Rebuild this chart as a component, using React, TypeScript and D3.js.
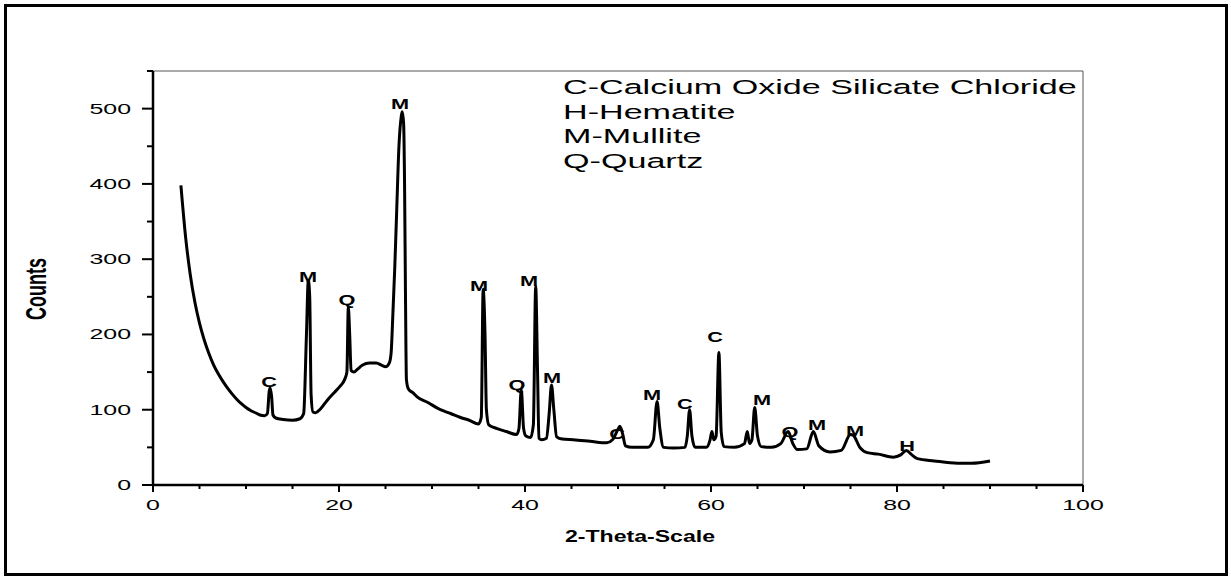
import * as d3 from "d3";
import React from "react";

// XRD pattern (2-theta in degrees, counts)
const twoTheta = [
  3.0, 3.5, 4.0, 4.5, 5.0, 5.5, 6.0, 6.5, 7.0, 7.5, 8.0, 8.5, 9.0, 9.5, 10.0, 10.5, 11.0, 11.5, 12.0,
  12.3, 12.5, 12.6, 12.75, 12.9, 13.2, 14.0, 15.0, 15.8, 16.2, 16.5, 16.7, 16.85, 17.0, 17.2, 17.5,
  18.0, 18.7, 19.5, 20.1, 20.6, 20.85, 21.0, 21.15, 21.3, 21.6, 22.0, 22.5, 23.3, 24.0, 24.6, 25.0,
  25.4, 25.6, 25.8, 26.0, 26.2, 26.45, 26.7, 26.8, 26.95, 27.05, 27.15, 27.25, 27.45, 28.0, 28.4,
  29.5, 30.9, 32.0, 33.0, 34.0, 35.0, 35.3, 35.5, 35.7, 35.85, 36.1, 37.0, 38.0, 39.1, 39.35, 39.6,
  39.85, 40.1, 40.6, 40.9, 41.15, 41.35, 41.5, 41.8, 42.3, 42.6, 42.85, 43.1, 43.4, 44.0, 45.2,
  47.0, 48.8, 49.4, 50.0, 50.2, 50.5, 50.8, 51.5, 53.2, 53.8, 54.2, 54.5, 54.9, 56.0, 57.2, 57.45,
  57.7, 57.95, 58.3, 59.5, 59.9, 60.1, 60.3, 60.55, 60.85, 61.1, 61.4, 62.5, 63.6, 63.9, 64.15,
  64.4, 64.7, 65.0, 65.4, 66.5, 67.5, 68.3, 68.8, 69.3, 70.3, 71.0, 71.6, 72.8, 74.0, 75.0, 75.3,
  76.0, 76.8, 78.0, 79.6, 80.4, 81.0, 81.6, 82.2, 84.0, 86.5, 88.0, 90.0,
];
const counts = [
  398, 330, 280, 243, 215, 193, 175, 160, 148, 138, 129, 121, 114, 108, 103, 99, 96, 93, 92,
  95, 125, 129, 118, 93, 89, 87, 86, 88, 95, 200, 272, 250, 120, 97, 96,
  101, 112, 123, 131, 140, 150, 236, 200, 152, 150, 154, 159, 162, 162, 159, 157,
  162, 175, 229, 290, 363, 451, 490, 496, 480, 400, 250, 140, 128, 122, 117,
  110, 100, 95, 90, 86, 81, 90, 260, 200, 100, 80, 75, 71, 67, 75, 127,
  75, 65, 63, 80, 264, 150, 62, 60, 62, 95, 133, 100, 64, 61, 60,
  58, 56, 60, 74, 78, 68, 52, 50, 50, 60, 111, 75, 50, 49, 50, 65,
  100, 65, 50, 50, 60, 71, 60, 65, 176, 70, 51, 50, 55, 71, 55,
  60, 103, 65, 51, 50, 55, 71, 55, 47, 48, 71, 52, 44, 46, 67, 66,
  50, 43, 41, 37, 40, 46, 40, 35, 32, 29, 29, 32,
];

// peak labels (phase letter, where the letter sits)
const peakPhase = ["C", "M", "Q", "M", "M", "Q", "M", "M", "C", "M", "C", "C", "M", "Q", "M", "M", "H"];
const peakTheta = [12.47, 16.67, 20.86, 26.56, 35.05, 39.14, 40.43, 42.9, 49.89, 53.66, 57.2, 60.43, 65.48, 68.49, 71.4, 75.48, 81.08];
const peakCount = [137, 277, 247, 507, 265, 133, 272, 143, 69, 120, 108, 197, 113, 71, 81, 73, 53];

const legendLines = ["C-Calcium Oxide Silicate Chloride", "H-Hematite", "M-Mullite", "Q-Quartz"];

const xTicks = [0, 20, 40, 60, 80, 100];
const yTicks = [0, 100, 200, 300, 400, 500];

const font = "'Liberation Sans', Arial, sans-serif";

// the original picture is stretched sideways, so text gets a horizontal scale
const Txt = ({ x, y, sx, size, anchor = "start", weight = "normal", rot = 0, children }: any) => (
  <text
    transform={`translate(${x},${y}) scale(${sx},1) rotate(${rot})`}
    fontFamily={font}
    fontSize={size}
    fontWeight={weight}
    textAnchor={anchor}
    fill="#000"
  >
    {children}
  </text>
);

export default function App() {
  const left = 153, right = 1083, top = 71, bottom = 485;
  const x = d3.scaleLinear().domain([0, 100]).range([left, right]);
  const y = d3.scaleLinear().domain([0, 550]).range([bottom, top]);

  const pts = twoTheta.map((t, i) => [t, counts[i]] as [number, number]);
  const line = d3.line<[number, number]>()
    .x(d => x(d[0]))
    .y(d => y(d[1]))
    .curve(d3.curveMonotoneX);

  const xMinor = d3.range(0, 101, 5).filter(v => v % 20 !== 0);
  const yMinor = d3.range(50, 551, 100);

  return (
    <svg width={1231} height={580} style={{ position: "absolute", left: 0, top: 0 }}>
      <rect x={0} y={0} width={1231} height={580} fill="#fff" />
      <rect x={5.5} y={5.5} width={1221} height={569} fill="none" stroke="#000" strokeWidth={3} />

      {/* thin top/right frame */}
      <path d={`M${left},${top}H${right}V${bottom}`} fill="none" stroke="#555" strokeWidth={1} />

      {/* y axis */}
      <line x1={left} x2={left} y1={top} y2={bottom + 1} stroke="#000" strokeWidth={2.5} />
      {yTicks.map(v => (
        <g key={"y" + v}>
          <line x1={left - 11} x2={left} y1={y(v)} y2={y(v)} stroke="#000" strokeWidth={2} />
          <Txt x={131} y={y(v) + 5} sx={1.72} size={14.5} anchor="end">{v}</Txt>
        </g>
      ))}
      {yMinor.map(v => (
        <line key={"ym" + v} x1={left - 6} x2={left} y1={y(v)} y2={y(v)} stroke="#000" strokeWidth={2} />
      ))}

      {/* x axis */}
      <line x1={left - 1} x2={right} y1={bottom} y2={bottom} stroke="#000" strokeWidth={2.5} />
      {xTicks.map(v => (
        <g key={"x" + v}>
          <line x1={x(v)} x2={x(v)} y1={bottom} y2={bottom + 7} stroke="#000" strokeWidth={2} />
          <Txt x={x(v)} y={510} sx={1.72} size={14.5} anchor="middle">{v}</Txt>
        </g>
      ))}
      {xMinor.map(v => (
        <line key={"xm" + v} x1={x(v)} x2={x(v)} y1={bottom} y2={bottom + 4} stroke="#000" strokeWidth={2} />
      ))}

      <Txt x={640} y={542} sx={1.4} size={16.5} anchor="middle" weight="bold">2-Theta-Scale</Txt>
      <Txt x={46} y={289} sx={1.65} size={18} anchor="middle" weight="bold" rot={-90}>Counts</Txt>

      {/* pattern */}
      <path d={line(pts) ?? ""} fill="none" stroke="#000" strokeWidth={3} strokeLinejoin="round" />

      {peakPhase.map((p, i) => (
        <Txt key={"p" + i} x={x(peakTheta[i])} y={y(peakCount[i]) + 5.5} sx={1.45} size={15} anchor="middle" weight="bold">
          {p}
        </Txt>
      ))}

      {legendLines.map((s, i) => (
        <Txt key={"l" + i} x={563} y={94 + i * 24.5} sx={1.75} size={19.5}>{s}</Txt>
      ))}
    </svg>
  );
}
